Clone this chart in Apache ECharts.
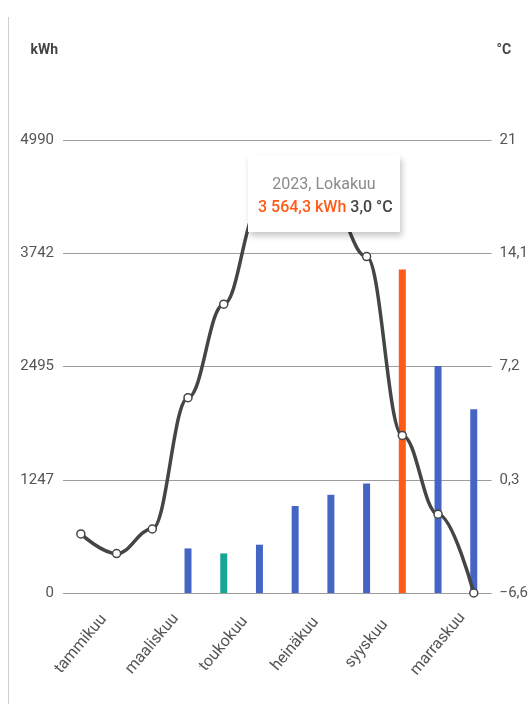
<!DOCTYPE html>
<html>
<head>
<meta charset="utf-8">
<script src="https://cdn.jsdelivr.net/npm/echarts@6/dist/echarts.min.js"></script>
<style>
  html, body { margin: 0; padding: 0; background: #fff; }
  #frame { position: absolute; left: 8px; top: 17px; bottom: 0; border-left: 1px solid #cfcfcf; }
  #chart { width: 531px; height: 704px; }
</style>
</head>
<body>
<div id="chart"></div>
<div id="frame"></div>
<script>
// Monthly energy use (kWh) and mean temperature (°C), 2023
const months = ['tammikuu', 'helmikuu', 'maaliskuu', 'huhtikuu', 'toukokuu', 'kesäkuu',
  'heinäkuu', 'elokuu', 'syyskuu', 'lokakuu', 'marraskuu', 'joulukuu'];
const monthTitles = ['Tammikuu', 'Helmikuu', 'Maaliskuu', 'Huhtikuu', 'Toukokuu', 'Kesäkuu',
  'Heinäkuu', 'Elokuu', 'Syyskuu', 'Lokakuu', 'Marraskuu', 'Joulukuu'];
const energyKwh = [null, null, null, 491, 436, 532, 958, 1082, 1206, 3564.3, 2500, 2025];
const temperatureC = [-3.0, -4.2, -2.7, 5.3, 11.0, 16.9, 18.5, 17.2, 13.9, 3.0, -1.8, -6.6];
const barColors = ['#4565c4', '#4565c4', '#4565c4', '#4565c4', '#17a596', '#4565c4',
  '#4565c4', '#4565c4', '#4565c4', '#ff5a17', '#4565c4', '#4565c4'];
const year = 2023;
const selectedMonth = 9;

const kwhMax = 4990;
const tempMin = -6.6, tempMax = 21;

const fmtNum = (v, digits) => v.toFixed(digits).replace('.', ',').replace(/\B(?=(\d{3})+(?!\d))/g, ' ');

const chart = echarts.init(document.getElementById('chart'), null, { renderer: 'canvas' });
const font = 'Roboto, "Noto Sans", sans-serif';

chart.setOption({
  animation: false,
  textStyle: { fontFamily: font },
  grid: { left: 63, right: 38, top: 140, bottom: 111, containLabel: false },
  tooltip: {
    trigger: 'item',
    triggerOn: 'none',
    alwaysShowContent: true,
    transitionDuration: 0,
    backgroundColor: '#fff',
    borderWidth: 0,
    padding: [17, 10, 7, 10],
    extraCssText: 'border-radius:0;box-shadow:2px 4px 6px rgba(0,0,0,0.22);width:132px;height:53px;text-align:center;',
    position: function () { return [248, 155]; },
    formatter: function (p) {
      const i = p.dataIndex;
      return '<div style="font-family:Roboto;font-size:16px;line-height:23px;color:#8a8a8a;">' +
        year + ', ' + monthTitles[i] + '</div>' +
        '<div style="font-family:Roboto;font-size:16px;line-height:23px;font-weight:500;white-space:nowrap;">' +
        '<span style="color:' + barColors[i] + '">' + fmtNum(energyKwh[i], 1) + ' kWh</span> ' +
        '<span style="color:#444">' + fmtNum(temperatureC[i], 1) + ' °C</span></div>';
    }
  },
  xAxis: {
    type: 'category',
    data: months,
    boundaryGap: true,
    axisLine: { show: false },
    axisTick: { show: false },
    axisLabel: {
      interval: 1,
      rotate: 50,
      margin: 51,
      align: 'center',
      verticalAlign: 'middle',
      color: '#555',
      fontSize: 16,
      fontFamily: font
    }
  },
  yAxis: [
    {
      type: 'value',
      min: 0,
      max: kwhMax,
      interval: kwhMax / 4,
      name: 'kWh',
      nameLocation: 'end',
      nameGap: 83,
      nameTextStyle: { color: '#444', fontSize: 14, fontWeight: 'bold', align: 'right', padding: [0, 5, 0, 0] },
      axisLine: { show: false },
      axisTick: { show: false },
      axisLabel: {
        margin: 9,
        color: '#555',
        fontSize: 15,
        formatter: v => String(Math.floor(v))
      },
      splitLine: { lineStyle: { color: '#9c9c9c', width: 1 } }
    },
    {
      type: 'value',
      min: tempMin,
      max: tempMax,
      interval: (tempMax - tempMin) / 4,
      name: '°C',
      nameLocation: 'end',
      nameGap: 83,
      nameTextStyle: { color: '#444', fontSize: 14, fontWeight: 'bold', align: 'left', padding: [0, 0, 0, 5] },
      axisLine: { show: false },
      axisTick: { show: false },
      axisLabel: {
        margin: 8,
        color: '#555',
        fontSize: 15,
        formatter: v => (Math.round(v * 10) / 10).toString().replace('.', ',').replace('-', '−')
      },
      splitLine: { show: false }
    }
  ],
  series: [
    {
      name: 'Energia',
      type: 'bar',
      yAxisIndex: 0,
      barWidth: 7,
      data: energyKwh.map((v, i) => ({ value: v, itemStyle: { color: barColors[i] } })),
      z: 2
    },
    {
      name: 'Lämpötila',
      type: 'line',
      yAxisIndex: 1,
      smooth: 0.4,
      smoothMonotone: 'x',
      data: temperatureC,
      symbol: 'circle',
      symbolSize: 8,
      lineStyle: { color: '#454545', width: 3.5 },
      itemStyle: { color: '#fff', borderColor: '#454545', borderWidth: 1.5 },
      z: 3
    }
  ]
});

chart.dispatchAction({ type: 'showTip', seriesIndex: 0, dataIndex: selectedMonth });
</script>
</body>
</html>
